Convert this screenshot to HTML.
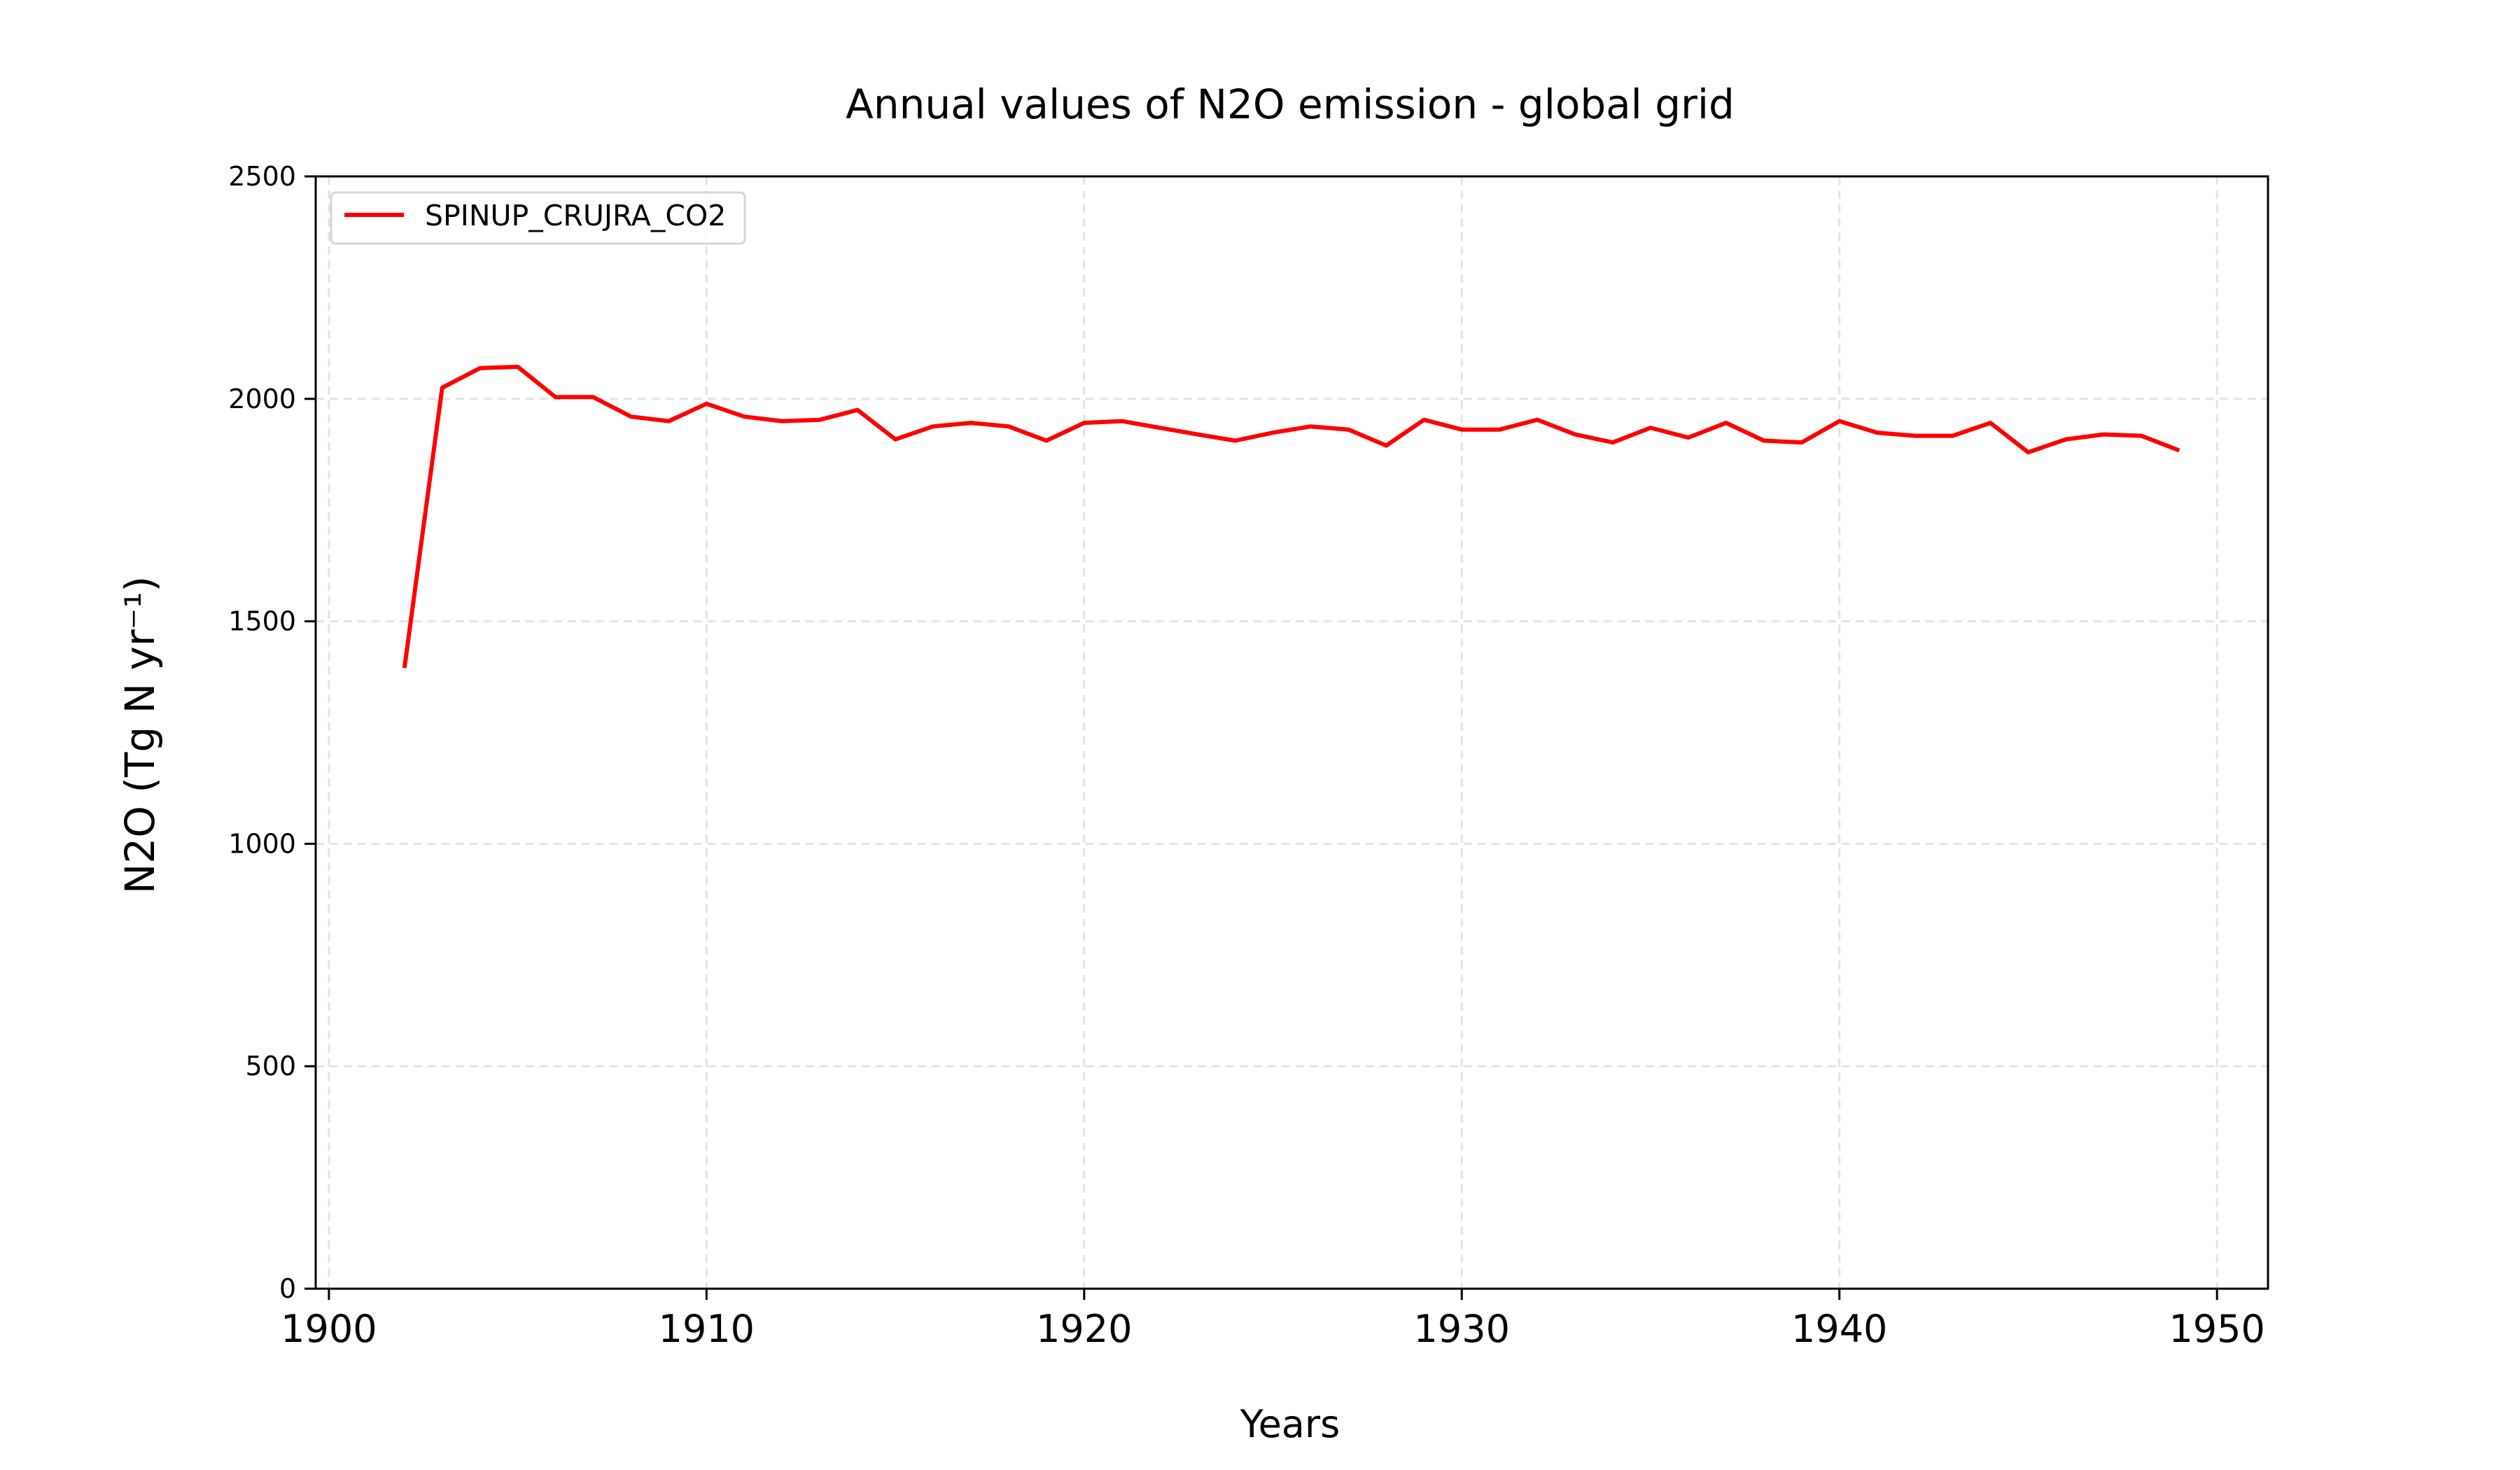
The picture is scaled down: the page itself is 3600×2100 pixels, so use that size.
<!DOCTYPE html>
<html><head><meta charset="utf-8"><style>
html,body{margin:0;padding:0;background:#fff;}
svg{display:block;font-family:"DejaVu Sans","Liberation Sans",sans-serif;}
</style></head><body>
<svg id="chart" width="3600" height="2100" viewBox="0 0 3600 2100" xmlns="http://www.w3.org/2000/svg">
<rect x="0" y="0" width="3600" height="2100" fill="#fff"/>
<g id="grid"></g>
<g id="series"></g>
<g id="axes"></g>
<text x="1843" y="169" font-size="58" text-anchor="middle">Annual values of N2O emission - global grid</text>
<text x="1843" y="2053" font-size="54" text-anchor="middle">Years</text>
<text transform="translate(220,1050) rotate(-90)" font-size="58" text-anchor="middle">N2O (Tg N yr⁻¹)</text>
<g>
<rect x="473" y="275" width="591" height="73" rx="6" fill="#fff" fill-opacity="0.8" stroke="#d6d6d6" stroke-width="3"/>
<line x1="492" y1="307" x2="577" y2="307" stroke="#ff0000" stroke-width="6"/>
<text x="607" y="322" font-size="41">SPINUP_CRUJRA_CO2</text>
</g>
</svg>
<script>
const years = [1902,1903,1904,1905,1906,1907,1908,1909,1910,1911,1912,1913,1914,1915,1916,1917,1918,1919,1920,1921,1922,1923,1924,1925,1926,1927,1928,1929,1930,1931,1932,1933,1934,1935,1936,1937,1938,1939,1940,1941,1942,1943,1944,1945,1946,1947,1948,1949];
const n2oValues = [1395,2025,2069,2072,2004,2004,1960,1950,1989,1960,1950,1953,1975,1909,1938,1946,1938,1906,1946,1950,1935,1920,1906,1924,1938,1931,1895,1953,1931,1931,1953,1920,1902,1935,1913,1946,1906,1902,1950,1924,1917,1917,1946,1880,1909,1920,1917,1884];
const xTicks = [1900,1910,1920,1930,1940,1950];
const yTicks = [0,500,1000,1500,2000,2500];

const NS = "http://www.w3.org/2000/svg";
const L = 451, R = 3240, T = 252, B = 1841;
const xMin = 1899.65, xMax = 1951.35, yMin = 0, yMax = 2500;
function xs(v){ return L + (v - xMin) / (xMax - xMin) * (R - L); }
function ys(v){ return B - (v - yMin) / (yMax - yMin) * (B - T); }
function mk(tag, attrs, parent){
  const el = document.createElementNS(NS, tag);
  for (const k in attrs) el.setAttribute(k, attrs[k]);
  parent.appendChild(el);
  return el;
}
const grid = document.getElementById('grid');
const axes = document.getElementById('axes');
const series = document.getElementById('series');

xTicks.forEach(t => {
  const x = xs(t);
  const g = mk('line', {x1:x, y1:T, x2:x, y2:B, stroke:'#e3e3e3', 'stroke-width':3, 'stroke-dasharray':'12,8'}, grid);
  
  
  const tk = mk('line', {x1:x, y1:B, x2:x, y2:B+16, stroke:'#000', 'stroke-width':3}, axes);
  
  
  const lb = mk('text', {x:x, y:B+76, 'font-size':54, 'text-anchor':'middle'}, axes);
  lb.textContent = t;
  
  
});
yTicks.forEach(t => {
  const y = ys(t);
  const g = mk('line', {x1:L, y1:y, x2:R, y2:y, stroke:'#e3e3e3', 'stroke-width':3, 'stroke-dasharray':'12,8'}, grid);
  
  
  const tk = mk('line', {x1:L-16, y1:y, x2:L, y2:y, stroke:'#000', 'stroke-width':3}, axes);
  
  
  const lb = mk('text', {x:L-28, y:y+13, 'font-size':38, 'text-anchor':'end'}, axes);
  lb.textContent = t;
  
  
});
const frame = mk('rect', {x:L, y:T, width:R-L, height:B-T, fill:'none', stroke:'#000', 'stroke-width':3}, axes);



const pts = years.map((yr, i) => xs(yr).toFixed(1) + ',' + ys(n2oValues[i]).toFixed(1)).join(' ');
const line = mk('polyline', {points:pts, fill:'none', stroke:'#ff0000', 'stroke-width':6, 'stroke-linejoin':'round'}, series);


</script>
</body></html>
